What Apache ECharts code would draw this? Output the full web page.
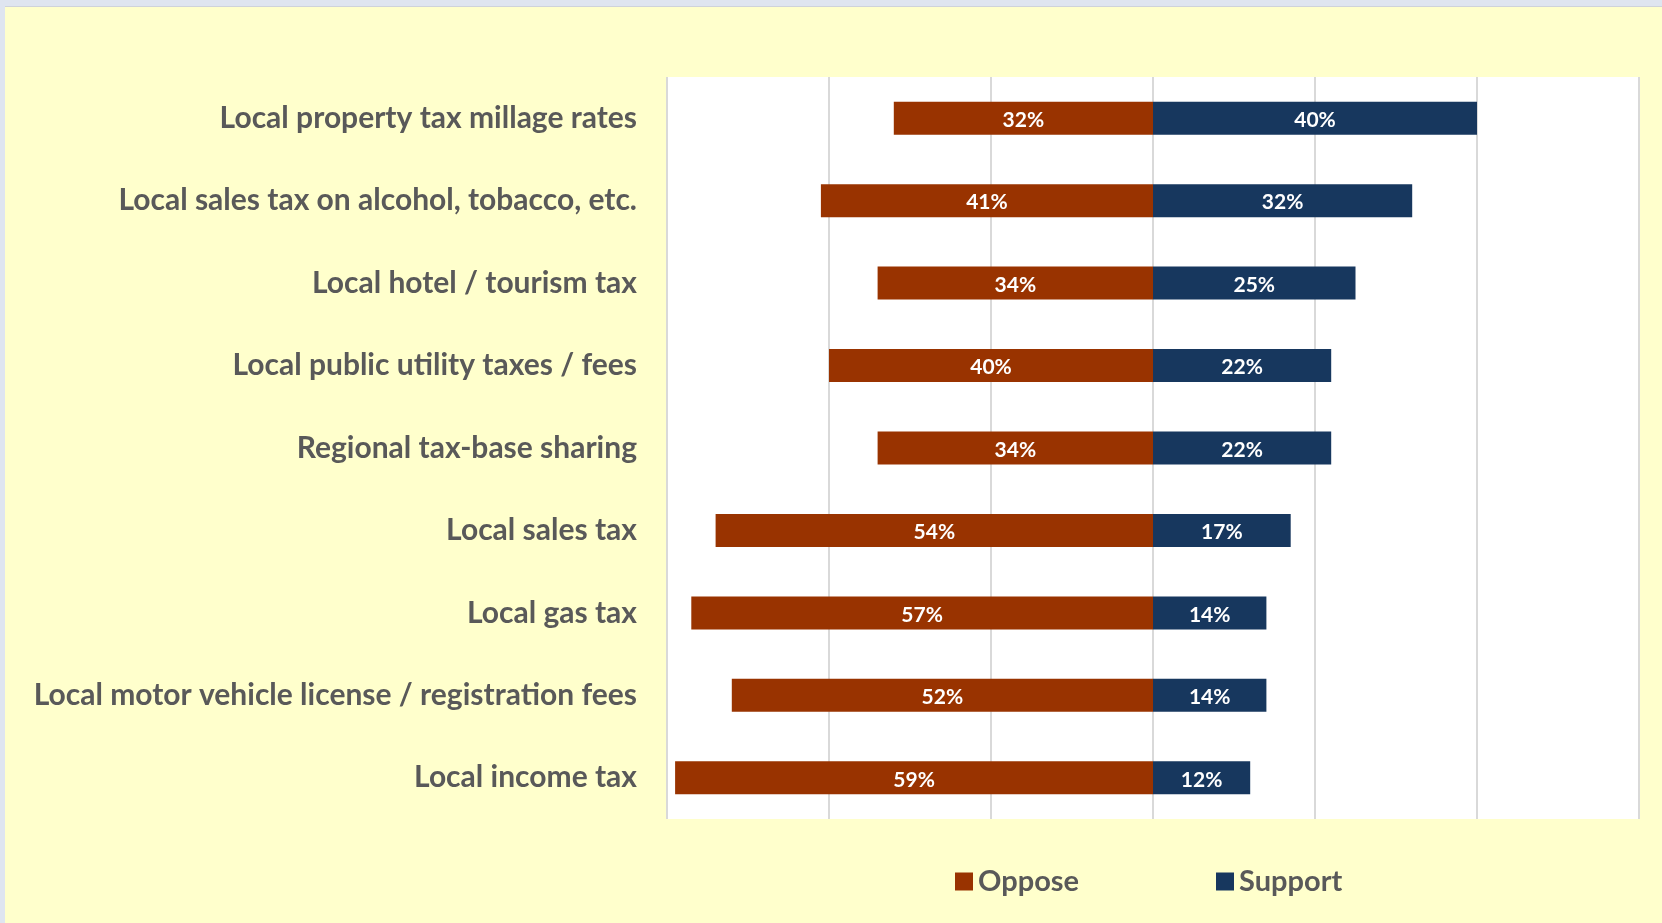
<!DOCTYPE html>
<html>
<head>
<meta charset="utf-8">
<script src="https://cdn.jsdelivr.net/npm/echarts@6/dist/echarts.min.js"></script>
<style>
  html, body { margin: 0; padding: 0; background: #ffffcc; }
  #main { width: 1662px; height: 923px; }
</style>
</head>
<body>
<div id="main"></div>
<script>
// 分类 (从上到下)
var categories = [
    'Local property tax millage rates',
    'Local sales tax on alcohol, tobacco, etc.',
    'Local hotel / tourism tax',
    'Local public utility taxes / fees',
    'Regional tax-base sharing',
    'Local sales tax',
    'Local gas tax',
    'Local motor vehicle license / registration fees',
    'Local income tax'
];
// 反对 (画在左边, 取负值)
var opposeData = [32, 41, 34, 40, 34, 54, 57, 52, 59];
// 支持
var supportData = [40, 32, 25, 22, 22, 17, 14, 14, 12];

var labelFont = 'Lato, "Open Sans", sans-serif';
var myChart = echarts.init(document.getElementById('main'));

var option = {
    backgroundColor: '#ffffcc',
    animation: false,
    graphic: [
        { type: 'rect', shape: { x: 0, y: 0, width: 1662, height: 7 }, style: { fill: '#dfe5f0' }, silent: true },
        { type: 'rect', shape: { x: 0, y: 6, width: 1662, height: 1 }, style: { fill: '#cfd3da' }, silent: true },
        { type: 'rect', shape: { x: 0, y: 0, width: 5, height: 923 }, style: { fill: '#dfe5f0' }, silent: true }
    ],
    legend: {
        left: 950,
        top: 862,
        itemWidth: 18,
        itemHeight: 18,
        itemGap: 137,
        icon: 'rect',
        textStyle: {
            fontFamily: labelFont,
            fontWeight: 'bold',
            fontSize: 29,
            color: '#595959'
        },
        data: ['Oppose', 'Support']
    },
    grid: {
        left: 667,
        right: 23,
        top: 77,
        bottom: 104,
        show: true,
        backgroundColor: '#ffffff',
        borderWidth: 0,
        containLabel: false
    },
    xAxis: {
        type: 'value',
        min: -60,
        max: 60,
        interval: 20,
        axisLabel: { show: false },
        axisLine: { show: false },
        axisTick: { show: false },
        splitLine: {
            show: true,
            lineStyle: { color: '#d9d9d9', width: 2 }
        }
    },
    yAxis: {
        type: 'category',
        inverse: true,
        data: categories,
        axisLine: { show: false },
        axisTick: { show: false },
        axisLabel: {
            margin: 30,
            padding: [4, 0, 0, 0],
            fontFamily: labelFont,
            fontWeight: 'bold',
            fontSize: 30,
            color: '#595959'
        }
    },
    series: [
        {
            name: 'Oppose',
            type: 'bar',
            stack: 'total',
            barWidth: 33,
            itemStyle: { color: '#993300' },
            label: {
                show: true,
                position: 'inside',
                offset: [0, 2],
                color: '#ffffff',
                fontFamily: labelFont,
                fontWeight: 'bold',
                fontSize: 21,
                formatter: function (p) { return Math.abs(p.value) + '%'; }
            },
            data: opposeData.map(function (v) { return -v; })
        },
        {
            name: 'Support',
            type: 'bar',
            stack: 'total',
            barWidth: 33,
            itemStyle: { color: '#17375e' },
            label: {
                show: true,
                position: 'inside',
                offset: [0, 2],
                color: '#ffffff',
                fontFamily: labelFont,
                fontWeight: 'bold',
                fontSize: 21,
                formatter: function (p) { return p.value + '%'; }
            },
            data: supportData
        }
    ]
};

myChart.setOption(option);
</script>
</body>
</html>
